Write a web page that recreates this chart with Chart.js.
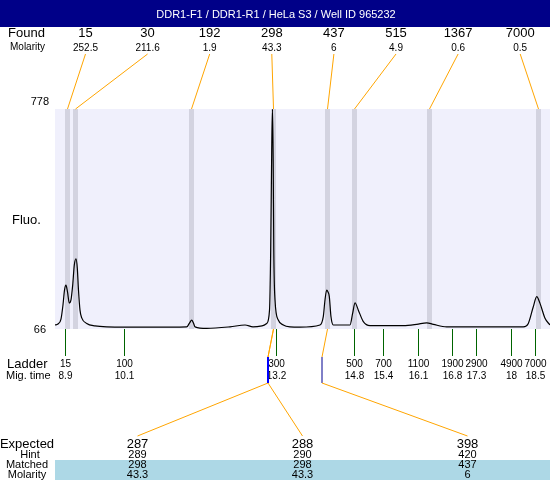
<!DOCTYPE html>
<html>
<head>
<meta charset="utf-8">
<title>DDR1-F1 / DDR1-R1 / HeLa S3 / Well ID 965232</title>
<script src="https://cdn.jsdelivr.net/npm/chart.js@4.4.1/dist/chart.umd.min.js"></script>
<style>
  html, body { margin: 0; padding: 0; background: #fff; }
  canvas { display: block; }
</style>
</head>
<body>
<canvas id="traceChart" width="550" height="480"></canvas>
<script>
// Sample title
const sampleTitle = 'DDR1-F1 / DDR1-R1 / HeLa S3 / Well ID 965232';

// Electropherogram trace: migration time (min) and fluorescence
const traceTime = [
    8.700, 8.761, 8.822, 8.863, 8.894, 8.924, 8.955, 8.992, 9.026, 9.061,
    9.094, 9.128, 9.155, 9.179, 9.210, 9.245, 9.347, 9.516, 9.755, 10.638,
    11.387, 11.444, 11.489, 11.526, 11.557, 11.795, 12.271, 12.577, 12.740, 12.924,
    13.020, 13.077, 13.101, 13.122, 13.138, 13.152, 13.164, 13.189, 13.256, 13.358,
    13.495, 13.699, 14.107, 14.174, 14.209, 14.244, 14.270, 14.297, 14.331, 14.378,
    14.719, 14.774, 14.821, 14.889, 14.991, 15.127, 15.807, 16.080, 16.284, 16.419,
    16.692, 18.255, 18.357, 18.459, 18.529, 18.596, 18.698, 18.798
];
const traceFluo = [
    79, 82, 98, 144, 192, 208, 186, 150, 160, 208,
    273, 293, 263, 192, 127, 102, 84, 76, 73, 72,
    73, 85, 95, 85, 73, 68, 73, 79, 73, 76,
    84, 127, 322, 645, 778, 613, 322, 160, 95, 79,
    73, 72, 79, 106, 160, 192, 186, 171, 106, 79,
    79, 117, 151, 127, 90, 77, 77, 81, 86, 81,
    73, 73, 84, 138, 171, 149, 101, 79
];

// Axis ranges
const fluoMin = 66;
const fluoMax = 778;
const timeMin = 8.70;
const timeMax = 18.80;

// Found peaks
const foundSize = ['15', '30', '192', '298', '437', '515', '1367', '7000'];
const foundMolarity = ['252.5', '211.6', '1.9', '43.3', '6', '4.9', '0.6', '0.5'];
const foundTime = [8.935, 9.118, 11.485, 13.138, 14.26, 14.811, 16.321, 18.545];

// Ladder
const ladderSize = ['15', '100', '300', '500', '700', '1100', '1900', '2900', '4900', '7000'];
const ladderTime = [8.9, 10.1, 13.2, 14.8, 15.4, 16.1, 16.8, 17.3, 18, 18.5];

// Expected / matched table
const expectedSize = ['287', '288', '398'];
const hintSize = ['289', '290', '420'];
const matchedSize = ['298', '298', '437'];
const matchedMolarity = ['43.3', '43.3', '6'];

const FONT = '"Liberation Sans", Arial, sans-serif';
const ORANGE = '#FFA500';

function drawText(ctx, str, x, y, size, align) {
    ctx.font = size + 'px ' + FONT;
    ctx.textAlign = align || 'center';
    ctx.textBaseline = 'middle';
    ctx.fillText(str, x, y);
}

function drawLine(ctx, x1, y1, x2, y2, color, width) {
    ctx.strokeStyle = color;
    ctx.lineWidth = width || 1;
    ctx.beginPath();
    ctx.moveTo(x1, y1);
    ctx.lineTo(x2, y2);
    ctx.stroke();
}

// Background, peak bands and all the labels around the plot
const overlayPlugin = {
    id: 'overlay',
    beforeDatasetsDraw(chart) {
        const { ctx, chartArea: a, scales: { x } } = chart;
        ctx.save();
        ctx.fillStyle = '#F0F0FC';
        ctx.fillRect(a.left, a.top, a.right - a.left, a.bottom - a.top);
        ctx.fillStyle = '#D3D3E0';
        foundTime.forEach(t => {
            const px = Math.round(x.getPixelForValue(t));
            ctx.fillRect(px - 2, a.top, 5, a.bottom - a.top);
        });
        ctx.restore();
    },
    afterDraw(chart) {
        const { ctx, chartArea: a, scales: { x } } = chart;
        ctx.save();

        // title bar
        ctx.fillStyle = '#000088';
        ctx.fillRect(0, 0, chart.width, 27);
        ctx.fillStyle = '#fff';
        drawText(ctx, sampleTitle, 276, 14.5, 11);

        // found peaks row
        ctx.fillStyle = '#000';
        drawText(ctx, 'Found', 8, 33.5, 13, 'left');
        drawText(ctx, 'Molarity', 10, 47.5, 10, 'left');
        foundSize.forEach((s, i) => {
            const cx = 85.5 + 62.1 * i;
            drawText(ctx, s, cx, 33.5, 13);
            drawText(ctx, foundMolarity[i], cx, 48, 10);
            const px = Math.round(x.getPixelForValue(foundTime[i])) + 0.5;
            drawLine(ctx, cx, 54, px, a.top, ORANGE, 1);
        });

        // y axis labels
        drawText(ctx, String(fluoMax), 49, 102, 11, 'right');
        drawText(ctx, String(fluoMin), 46, 330, 11, 'right');
        drawText(ctx, 'Fluo.', 12, 220, 13, 'left');

        // ladder ticks and labels
        drawText(ctx, 'Ladder', 7, 364, 13, 'left');
        drawText(ctx, 'Mig. time', 6, 376, 11, 'left');
        ladderTime.forEach((t, i) => {
            const px = Math.round(x.getPixelForValue(t)) + 0.5;
            drawLine(ctx, px, a.bottom, px, 356, '#006400', 1);
            drawText(ctx, ladderSize[i], px, 364, 10);
            drawText(ctx, String(t), px, 376.5, 10);
        });

        // expected table
        ctx.fillStyle = '#ADD8E6';
        ctx.fillRect(a.left, 460, a.right - a.left, 20);
        ctx.fillStyle = '#000';
        drawText(ctx, 'Expected', 27, 444, 13);
        drawText(ctx, 'Hint', 30, 455, 11);
        drawText(ctx, 'Matched', 27, 465, 11);
        drawText(ctx, 'Molarity', 27, 474.5, 11);
        const colW = (a.right - a.left) / expectedSize.length;
        expectedSize.forEach((s, i) => {
            const cx = a.left + colW * (i + 0.5);
            ctx.fillStyle = '#000';
            drawText(ctx, s, cx, 444.5, 13);
            drawText(ctx, hintSize[i], cx, 455, 11);
            drawText(ctx, matchedSize[i], cx, 465, 11);
            drawText(ctx, matchedMolarity[i], cx, 474.5, 11);

            // connector: peak -> ladder row -> table column
            const k = foundSize.indexOf(matchedSize[i]);
            const px = Math.round(x.getPixelForValue(foundTime[k])) + 0.5;
            const bx = px - 5.5;
            const shared = matchedSize.filter(m => m === matchedSize[i]).length > 1;
            drawLine(ctx, px, a.bottom, bx, 357, ORANGE, 1);
            drawLine(ctx, bx, 357, bx, 383, shared ? '#0000FF' : '#000090', shared ? 2 : 1);
            drawLine(ctx, bx, 383, cx, 436, ORANGE, 1);
        });

        ctx.restore();
    }
};

function initializeChart() {
    const ctx = document.getElementById('traceChart').getContext('2d');
    return new Chart(ctx, {
        type: 'line',
        data: {
            datasets: [{
                data: traceTime.map((t, i) => ({ x: t, y: traceFluo[i] })),
                borderColor: '#000',
                borderWidth: 1.2,
                pointRadius: 0,
                fill: false,
                cubicInterpolationMode: 'monotone'
            }]
        },
        options: {
            responsive: false,
            devicePixelRatio: 1,
            animation: false,
            layout: {
                padding: { left: 55, top: 109, right: 0, bottom: 151 }
            },
            plugins: {
                legend: { display: false },
                tooltip: { enabled: false }
            },
            scales: {
                x: { type: 'linear', min: timeMin, max: timeMax, display: false },
                y: { min: fluoMin, max: fluoMax, display: false }
            }
        },
        plugins: [overlayPlugin]
    });
}

initializeChart();
</script>
</body>
</html>
